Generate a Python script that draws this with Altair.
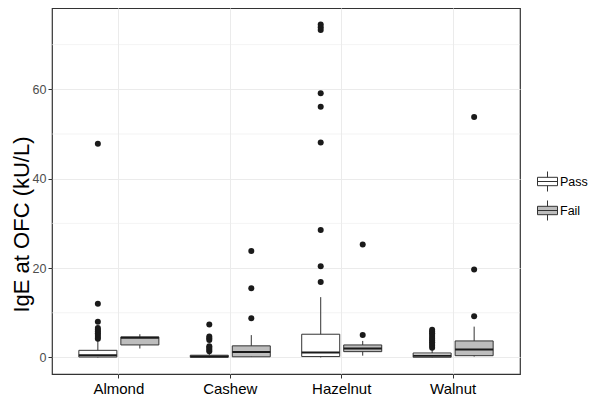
import altair as alt
import pandas as pd

nuts = ["Almond", "Cashew", "Hazelnut", "Walnut"]
groups = ["Pass", "Fail"]

box_nut = ["Almond", "Almond", "Cashew", "Cashew", "Hazelnut", "Hazelnut", "Walnut", "Walnut"]
box_group = ["Pass", "Fail", "Pass", "Fail", "Pass", "Fail", "Pass", "Fail"]
whisker_low = [0.0, 2.0, 0.0, 0.1, 0.0, 0.4, 0.0, 0.2]
q1 = [0.1, 2.8, 0.05, 0.15, 0.2, 1.3, 0.05, 0.4]
median = [0.5, 4.4, 0.2, 1.2, 1.1, 2.0, 0.4, 1.8]
q3 = [1.6, 4.6, 0.5, 2.6, 5.2, 2.8, 1.0, 3.7]
whisker_high = [3.8, 5.2, 0.9, 5.0, 13.5, 3.7, 1.8, 6.9]

almond_pass_out = [4.2, 4.6, 5.0, 5.4, 5.8, 6.2, 6.6, 8.0, 12.0, 47.8]
almond_fail_out = []
cashew_pass_out = [1.4, 1.8, 2.2, 2.5, 3.9, 4.3, 4.7, 7.4]
cashew_fail_out = [8.8, 15.5, 23.8]
hazelnut_pass_out = [16.9, 20.4, 28.5, 48.1, 56.1, 59.1, 73.3, 73.9, 74.5]
hazelnut_fail_out = [5.0, 25.3]
walnut_pass_out = [2.2, 2.6, 3.0, 3.4, 3.8, 4.2, 4.6, 5.0, 5.4, 5.8, 6.2]
walnut_fail_out = [9.2, 19.7, 53.8]

y_ticks = [0, 20, 40, 60]
y_minor = [10, 30, 50, 70]

boxes = pd.DataFrame({
    "nut": box_nut, "group": box_group, "lw": whisker_low, "q1": q1,
    "med": median, "q3": q3, "uw": whisker_high,
})

out_sets = {
    ("Almond", "Pass"): almond_pass_out, ("Almond", "Fail"): almond_fail_out,
    ("Cashew", "Pass"): cashew_pass_out, ("Cashew", "Fail"): cashew_fail_out,
    ("Hazelnut", "Pass"): hazelnut_pass_out, ("Hazelnut", "Fail"): hazelnut_fail_out,
    ("Walnut", "Pass"): walnut_pass_out, ("Walnut", "Fail"): walnut_fail_out,
}
rows = []
for (n, g), vals in out_sets.items():
    for v in vals:
        rows.append({"nut": n, "group": g, "value": v})
outliers = pd.DataFrame(rows)
minor = pd.DataFrame({"y": y_minor})

yscale = alt.Scale(domain=[-3.7, 78.2], nice=False, zero=False)
xenc = alt.X("nut:N", scale=alt.Scale(domain=nuts, paddingInner=0, paddingOuter=0.1),
             axis=alt.Axis(title=None, labelFontSize=15, labelColor="#000000",
                           labelPadding=3, labelAngle=0, grid=True, tickSize=4))
xoff = alt.XOffset("group:N", scale=alt.Scale(domain=groups, paddingInner=0.095, paddingOuter=0.374))

minor_grid = alt.Chart(minor).mark_rule(color="#ebebeb", strokeWidth=0.6).encode(
    y=alt.Y("y:Q", scale=yscale)
)

whisk = alt.Chart(boxes).mark_rule(color="#333333", strokeWidth=1).encode(
    x=xenc, xOffset=xoff,
    y=alt.Y("lw:Q", scale=yscale,
            axis=alt.Axis(values=y_ticks, title="IgE at OFC (kU/L)", titleFontSize=22,
                          titleFontWeight="normal", titleColor="#000000",
                          titleX=-31, titleY=216, titleAngle=-90, titleBaseline="middle",
                          titleAlign="center",
                          labelFontSize=12.5, labelColor="#4d4d4d", tickSize=4,
                          labelPadding=2, grid=True)),
    y2="uw:Q",
)

box = alt.Chart(boxes).mark_bar(stroke="#333333", strokeWidth=1).encode(
    x=xenc, xOffset=xoff,
    y=alt.Y("q1:Q", scale=yscale), y2="q3:Q",
    fill=alt.Fill("group:N", scale=alt.Scale(domain=groups, range=["#ffffff", "#bdbdbd"]),
                  legend=alt.Legend(title=None, orient="none", legendX=485, legendY=163,
                                    symbolType="M-1,-0.42H1V0.42H-1Z M-1,0H1 M0,-0.42V-1 M0,0.42V1",
                                    symbolSize=400, symbolStrokeColor="#333333",
                                    symbolStrokeWidth=1, labelFontSize=12.5,
                                    labelColor="#000000", rowPadding=4, labelOffset=2)),
)

med = alt.Chart(boxes).mark_tick(color="#1a1a1a", thickness=2, size=38, opacity=1).encode(
    x=xenc, xOffset=xoff,
    y=alt.Y("med:Q", scale=yscale),
)

pts = alt.Chart(outliers).mark_circle(color="#1a1a1a", size=36, opacity=1).encode(
    x=xenc, xOffset=xoff,
    y=alt.Y("value:Q", scale=yscale),
)

chart = alt.layer(minor_grid, whisk, box, med, pts).properties(
    width=468, height=366,
    autosize=alt.AutoSizeParams(type="none"),
    padding={"left": 44, "top": 0, "right": 72, "bottom": 24},
).configure_view(
    stroke="#333333", strokeWidth=1.2
).configure_axis(
    domain=False, tickColor="#333333", gridColor="#ebebeb", gridWidth=1,
    labelFont="Liberation Sans", titleFont="Liberation Sans",
).configure_legend(
    labelFont="Liberation Sans"
)

chart.save("out.html", embed_options={"renderer": "svg", "actions": False})
